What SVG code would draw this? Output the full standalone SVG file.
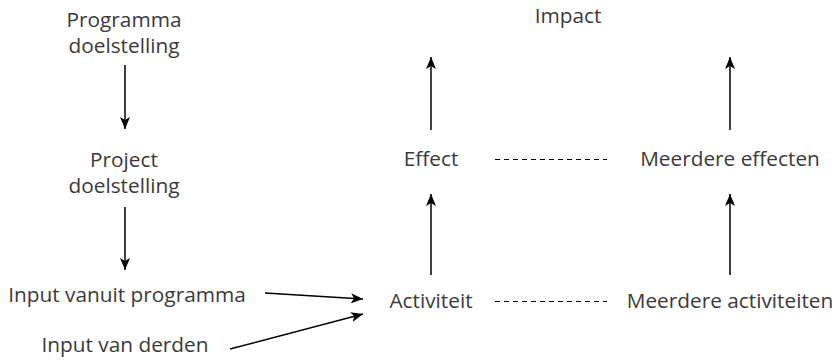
<svg xmlns="http://www.w3.org/2000/svg" width="835" height="360" viewBox="0 0 835 360">
<defs>
<style>
text{font-family:"Open Sans","Lato",sans-serif;font-size:20.8px;fill:#3a3a3a;text-anchor:middle}
.c{stroke:#000;stroke-width:1.5;fill:none}
.d{stroke:#000;stroke-width:1;stroke-dasharray:5 4;fill:none}
</style>
<marker id="ah" viewBox="0 0 12 10" refX="12" refY="5" markerWidth="12" markerHeight="10" markerUnits="userSpaceOnUse" orient="auto">
<path d="M0,0 L12,5 L0,10 L3,5 Z" fill="#000"/>
</marker>
</defs>
<rect width="835" height="360" fill="#fff"/>
<g id="programma"><text x="124" y="27">Programma</text><text x="124" y="53">doelstelling</text></g>
<g id="project"><text x="124" y="167">Project</text><text x="124" y="193">doelstelling</text></g>
<g id="input-programma"><text x="127" y="302">Input vanuit programma</text></g>
<g id="input-derden"><text x="125" y="352">Input van derden</text></g>
<g id="activiteit"><text x="431" y="308">Activiteit</text></g>
<g id="effect"><text x="431" y="166">Effect</text></g>
<g id="impact"><text x="568" y="23">Impact</text></g>
<g id="meerdere-effecten"><text x="730" y="166">Meerdere effecten</text></g>
<g id="meerdere-activiteiten"><text x="730" y="308">Meerdere activiteiten</text></g>
<g id="connectors">
<line class="c" x1="125" y1="65" x2="125" y2="129" marker-end="url(#ah)"/>
<line class="c" x1="125" y1="207" x2="125" y2="270" marker-end="url(#ah)"/>
<line class="c" x1="265" y1="293" x2="363" y2="299" marker-end="url(#ah)"/>
<line class="c" x1="230" y1="349" x2="363" y2="314" marker-end="url(#ah)"/>
<line class="c" x1="431" y1="275" x2="431" y2="194" marker-end="url(#ah)"/>
<line class="c" x1="431" y1="130" x2="431" y2="57" marker-end="url(#ah)"/>
<line class="c" x1="730" y1="275" x2="730" y2="194" marker-end="url(#ah)"/>
<line class="c" x1="730" y1="130" x2="730" y2="57" marker-end="url(#ah)"/>
<line class="d" x1="495" y1="159.5" x2="607" y2="159.5"/>
<line class="d" x1="495" y1="301.5" x2="607" y2="301.5"/>
</g>
</svg>
